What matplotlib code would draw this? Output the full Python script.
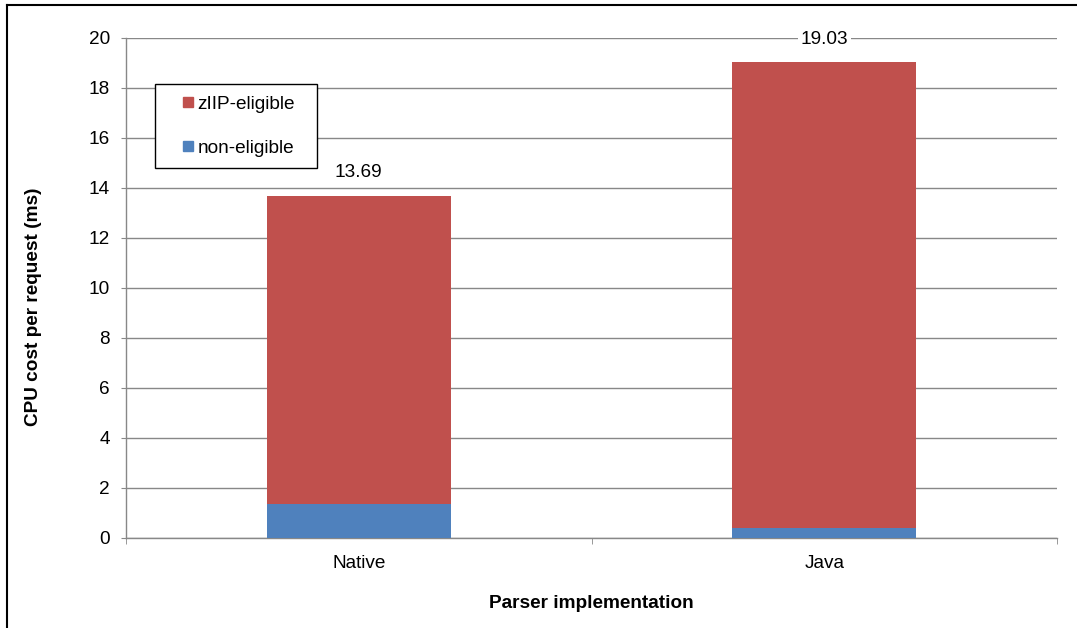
import matplotlib
matplotlib.use("Agg")
import matplotlib.pyplot as plt
from matplotlib.lines import Line2D

categories = ["Native", "Java"]
non_eligible = [1.38, 0.42]
ziip_eligible = [12.31, 18.61]
totals = [13.69, 19.03]
yticks = [0, 2, 4, 6, 8, 10, 12, 14, 16, 18, 20]

plt.rcParams['font.family'] = ['Liberation Sans', 'DejaVu Sans']
FS = 13.7
RED = "#C0504D"
BLUE = "#4F81BD"
GRID = "#888888"

fig = plt.figure(figsize=(10.77, 6.28), dpi=100)
ax = fig.add_axes([126/1077, 1-538/628, (1057-126)/1077, 500/628])

x = list(range(len(categories)))
w = 0.395
ax.bar(x, non_eligible, width=w, color=BLUE, zorder=3)
ax.bar(x, ziip_eligible, width=w, bottom=non_eligible, color=RED, zorder=3)

for xi, t in zip(x, totals):
    ax.annotate(f"{t:.2f}", (xi, t), xytext=(0, 16.5), textcoords="offset points",
                ha="center", va="center", fontsize=FS,
                bbox=dict(facecolor="white", edgecolor="none", pad=2), zorder=4)

ax.set_xlim(-0.5, 1.5)
ax.set_ylim(0, 20)
ax.set_yticks(yticks)
ax.set_yticklabels([str(v) for v in yticks], fontsize=FS)
ax.set_xticks(x)
ax.set_xticklabels(categories, fontsize=FS)
ax.set_xticks([-0.5, 0.5, 1.5], minor=True)
ax.tick_params(axis="x", which="major", length=0, pad=12)
ax.tick_params(axis="x", which="minor", length=4, color=GRID, direction="out")
ax.tick_params(axis="y", length=3.5, color=GRID, direction="out", pad=8)
ax.grid(axis="y", color=GRID, linewidth=1, zorder=0)
ax.set_axisbelow(True)
for s in ["top", "right"]:
    ax.spines[s].set_visible(False)
for s in ["left", "bottom"]:
    ax.spines[s].set_color(GRID)
    ax.spines[s].set_linewidth(1)

ax.set_ylabel("CPU cost per request (ms)", fontsize=FS, fontweight="bold", va="center")
ax.yaxis.set_label_coords((34-126)/931, (538-307)/500)
ax.set_xlabel("Parser implementation", fontsize=FS, fontweight="bold", va="center")
ax.xaxis.set_label_coords((591-126)/931, (538-604)/500)

handles = [Line2D([], [], linestyle="none", marker="s", markersize=7, color=RED),
           Line2D([], [], linestyle="none", marker="s", markersize=7, color=BLUE)]
leg = ax.legend(handles, ["zIIP-eligible", "non-eligible"], loc="upper left",
                bbox_to_anchor=((155-126)/931, 0.3, (317-155)/931, (538-84)/500 - 0.3),
                mode="expand", fontsize=FS, frameon=True, fancybox=False,
                edgecolor="black", framealpha=1, handlelength=2.2,
                handletextpad=-0.6, labelspacing=1.38, borderpad=0.62, borderaxespad=0)
leg.get_frame().set_linewidth(1)

# outer frame lines (left and top)
fig.add_artist(Line2D([7/1077, 7/1077], [0, 1-5/628], transform=fig.transFigure, color="black", lw=1.5))
fig.add_artist(Line2D([7/1077, 1], [1-5/628, 1-5/628], transform=fig.transFigure, color="black", lw=1.5))

fig.savefig("out.png", dpi=100)
